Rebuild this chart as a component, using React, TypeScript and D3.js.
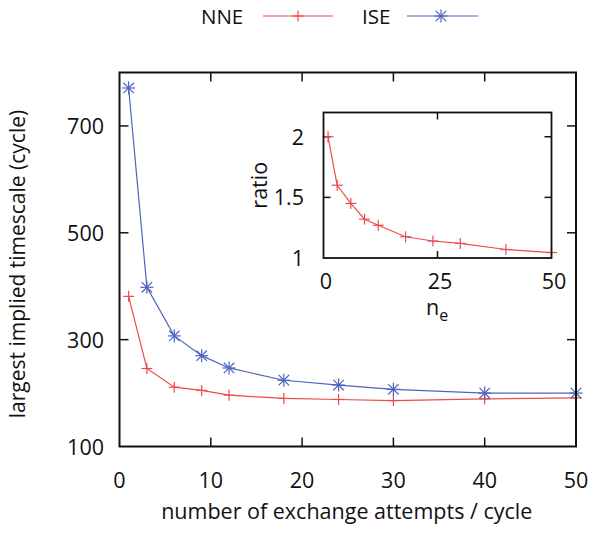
import React from "react";
import * as d3 from "d3";

const attempts = [1, 3, 6, 9, 12, 18, 24, 30, 40, 50];
const nneValues = [381, 246, 211, 205, 196, 190, 188, 186, 189, 191];
const iseValues = [771, 398, 307, 270, 247, 224, 215, 207, 200, 200];
const ratioValues = [2.0, 1.6, 1.45, 1.32, 1.27, 1.175, 1.14, 1.12, 1.07, 1.045];

const mainXTicks = [0, 10, 20, 30, 40, 50];
const mainYTicks = [100, 300, 500, 700];
const insetXTicks = [0, 25, 50];
const insetYTicks = [1, 1.5, 2];

const RED = "#ee4a4a";
const BLUE = "#4f63bd";
const FONT = "'Open Sans', 'Noto Sans', sans-serif";
const FS = 21.5;

function Plus({ x, y, color, s = 5.5 }: { x: number; y: number; color: string; s?: number }) {
  return (
    <g stroke={color} strokeWidth={1.2}>
      <line x1={x - s} x2={x + s} y1={y} y2={y} />
      <line x1={x} x2={x} y1={y - s} y2={y + s} />
    </g>
  );
}

function Star({ x, y, color, s = 6.5 }: { x: number; y: number; color: string; s?: number }) {
  const d = s * 0.8;
  return (
    <g stroke={color} strokeWidth={1.2}>
      <line x1={x - s} x2={x + s} y1={y} y2={y} />
      <line x1={x} x2={x} y1={y - s} y2={y + s} />
      <line x1={x - d} x2={x + d} y1={y - d} y2={y + d} />
      <line x1={x - d} x2={x + d} y1={y + d} y2={y - d} />
    </g>
  );
}

export default function App() {
  const L = 119.5, R = 576, T = 72.5, B = 446.5;
  const x = d3.scaleLinear().domain([0, 50]).range([L, R]);
  const y = d3.scaleLinear().domain([100, 800]).range([B, T]);

  const iL = 323.5, iR = 551.5, iT = 112.5, iB = 258;
  const ix = d3.scaleLinear().domain([0, 50]).range([iL, iR]);
  const iy = d3.scaleLinear().domain([1, 2.2]).range([iB, iT]);

  const line = d3.line<[number, number]>().x((d) => x(d[0])).y((d) => y(d[1]));
  const iline = d3.line<[number, number]>().x((d) => ix(d[0])).y((d) => iy(d[1]));

  const nne: [number, number][] = attempts.map((a, i) => [a, nneValues[i]]);
  const ise: [number, number][] = attempts.map((a, i) => [a, iseValues[i]]);
  const rat: [number, number][] = attempts.map((a, i) => [a, ratioValues[i]]);

  const tk = 9;
  const itk = 7;

  return (
    <svg width={600} height={533} style={{ position: "absolute", left: 0, top: 0, background: "#fff" }} fontFamily={FONT}>
      <rect width={600} height={533} fill="#fff" />
      {/* legend */}
      <text x={201} y={24} fontSize={20.5} fill="#111">NNE</text>
      <line x1={263} x2={333} y1={16} y2={16} stroke={RED} strokeWidth={1.2} />
      <Plus x={298} y={16} color={RED} />
      <text x={362} y={24} fontSize={20.5} fill="#111">ISE</text>
      <line x1={407} x2={478} y1={16} y2={16} stroke={BLUE} strokeWidth={1.2} />
      <Star x={441} y={16} color={BLUE} />

      {/* main ticks */}
      <g stroke="#111" strokeWidth={1.5}>
        {mainXTicks.slice(1, -1).map((t) => (
          <g key={"xt" + t}>
            <line x1={x(t)} x2={x(t)} y1={B} y2={B - tk} />
            <line x1={x(t)} x2={x(t)} y1={T} y2={T + tk} />
          </g>
        ))}
        {mainYTicks.slice(1).map((t) => (
          <g key={"yt" + t}>
            <line x1={L} x2={L + tk} y1={y(t)} y2={y(t)} />
            <line x1={R} x2={R - tk} y1={y(t)} y2={y(t)} />
          </g>
        ))}
      </g>
      {mainXTicks.map((t) => (
        <text key={"xl" + t} x={x(t)} y={488} fontSize={FS} textAnchor="middle" fill="#111">{t}</text>
      ))}
      {mainYTicks.map((t) => (
        <text key={"yl" + t} x={104} y={y(t) + 8} fontSize={FS} textAnchor="end" fill="#111">{t}</text>
      ))}
      <text x={(L + R) / 2 - 1} y={519} fontSize={FS} textAnchor="middle" fill="#111">number of exchange attempts / cycle</text>
      <text transform={`translate(25,264) rotate(-90)`} fontSize={21} textAnchor="middle" fill="#111">largest implied timescale (cycle)</text>

      {/* main series */}
      <path d={line(nne) || ""} fill="none" stroke={RED} strokeWidth={1.2} />
      <path d={line(ise) || ""} fill="none" stroke={BLUE} strokeWidth={1.2} />
      {nne.map((d, i) => <Plus key={"n" + i} x={x(d[0])} y={y(d[1])} color={RED} />)}
      {ise.map((d, i) => <Star key={"s" + i} x={x(d[0])} y={y(d[1])} color={BLUE} />)}

      <rect x={L} y={T} width={R - L} height={B - T} fill="none" stroke="#111" strokeWidth={2} />

      {/* inset */}
      <rect x={iL} y={iT} width={iR - iL} height={iB - iT} fill="#fff" stroke="none" />
      <g stroke="#111" strokeWidth={1.5}>
        {insetXTicks.slice(1, -1).map((t) => (
          <g key={"ixt" + t}>
            <line x1={ix(t)} x2={ix(t)} y1={iB} y2={iB - itk} />
            <line x1={ix(t)} x2={ix(t)} y1={iT} y2={iT + itk} />
          </g>
        ))}
        {insetYTicks.slice(1).map((t) => (
          <g key={"iyt" + t}>
            <line x1={iL} x2={iL + itk} y1={iy(t)} y2={iy(t)} />
            <line x1={iR} x2={iR - itk} y1={iy(t)} y2={iy(t)} />
          </g>
        ))}
      </g>
      {insetXTicks.map((t) => (
        <text key={"ixl" + t} x={ix(t) + 2.5} y={289} fontSize={FS} textAnchor="middle" fill="#111">{t}</text>
      ))}
      {insetYTicks.map((t) => (
        <text key={"iyl" + t} x={304} y={iy(t) + 8} fontSize={FS} textAnchor="end" fill="#111">{t}</text>
      ))}
      <text x={426} y={315} fontSize={FS} fill="#111">n<tspan fontSize={16} dy={6}>e</tspan></text>
      <text transform={`translate(267,${(iT + iB) / 2}) rotate(-90)`} fontSize={FS} textAnchor="middle" fill="#111">ratio</text>
      <path d={iline(rat) || ""} fill="none" stroke={RED} strokeWidth={1.2} />
      {rat.map((d, i) => <Plus key={"r" + i} x={ix(d[0])} y={iy(d[1])} color={RED} />)}
      <rect x={iL} y={iT} width={iR - iL} height={iB - iT} fill="none" stroke="#111" strokeWidth={1.8} />
    </svg>
  );
}
